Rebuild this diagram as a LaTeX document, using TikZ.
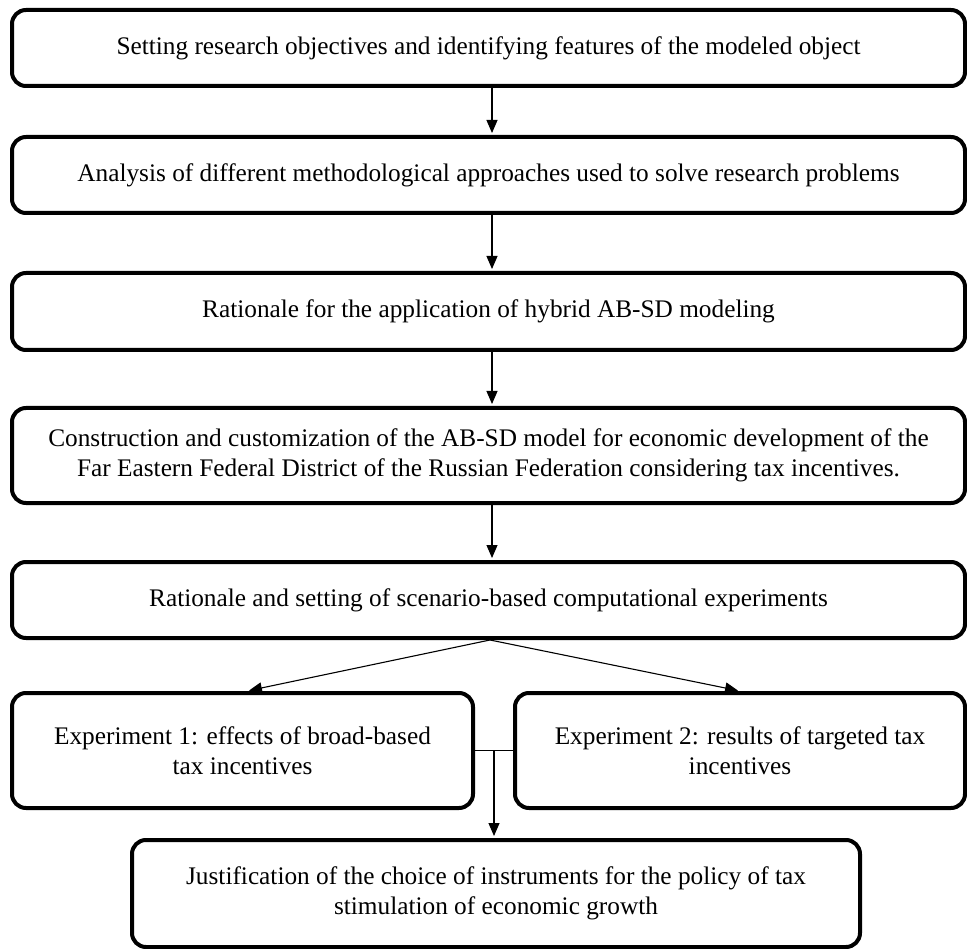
\documentclass[tikz,border=0pt]{standalone}
\usepackage{fontspec}
\setmainfont{Liberation Serif}
\usetikzlibrary{arrows.meta,calc}

\begin{document}
\begin{tikzpicture}[x=1pt,y=-1pt,
  stage/.style={draw, line width=4pt, rounded corners=14pt, inner sep=0pt,
    align=center, font=\fontsize{25.3}{29.5}\selectfont},
  flow/.style={line width=1.1pt, -{Triangle[length=13pt,width=11pt]}, shorten >=2pt},
  link/.style={line width=1.1pt}]
  \useasboundingbox (0,0) rectangle (967,949);

  % main chain of stages
  \node[stage, minimum width=953pt, minimum height=76pt] (s1) at (488.5,48)
    {Setting research objectives and identifying features of the modeled object};
  \node[stage, minimum width=953pt, minimum height=76pt] (s2) at (488.5,175)
    {Analysis of different methodological approaches used to solve research problems};
  \node[stage, minimum width=953pt, minimum height=77pt] (s3) at (488.5,311.5)
    {Rationale for the application of hybrid AB-SD modeling};
  \node[stage, minimum width=953pt, minimum height=95pt] (s4) at (488.5,455.5)
    {Construction and customization of the AB-SD model for economic development of the\\
     Far Eastern Federal District of the Russian Federation considering tax incentives.};
  \node[stage, minimum width=953pt, minimum height=76pt] (s5) at (488.5,600)
    {Rationale and setting of scenario-based computational experiments};

  % experiments
  \node[stage, minimum width=461pt, minimum height=115pt] (e1) at (242.5,750.5)
    {Experiment 1: effects of broad-based\\tax incentives};
  \node[stage, minimum width=450pt, minimum height=115pt] (e2) at (740,750.5)
    {Experiment 2: results of targeted tax\\incentives};

  % conclusion
  \node[stage, minimum width=728pt, minimum height=107pt] (fin) at (496,893.5)
    {Justification of the choice of instruments for the policy of tax\\
     stimulation of economic growth};

  % arrows between stages
  \coordinate (ax) at (492,0);
  \draw[flow] (s1.south -| ax) -- (s2.north -| ax);
  \draw[flow] (s2.south -| ax) -- (s3.north -| ax);
  \draw[flow] (s3.south -| ax) -- (s4.north -| ax);
  \draw[flow] (s4.south -| ax) -- (s5.north -| ax);

  % branching to experiments
  \coordinate (apex) at ($(s5.south)+(1.5,0)$);
  \draw[flow] (apex) -- ($(e1.north)+(4.5,0)$);
  \draw[flow] (apex) -- (e2.north);

  % merging into the conclusion
  \coordinate (join) at ($(e1.east)!0.5!(e2.west)$);
  \draw[link] (e1.east) -- (e2.west);
  \draw[flow] (join) -- (fin.north -| join);
\end{tikzpicture}
\end{document}
